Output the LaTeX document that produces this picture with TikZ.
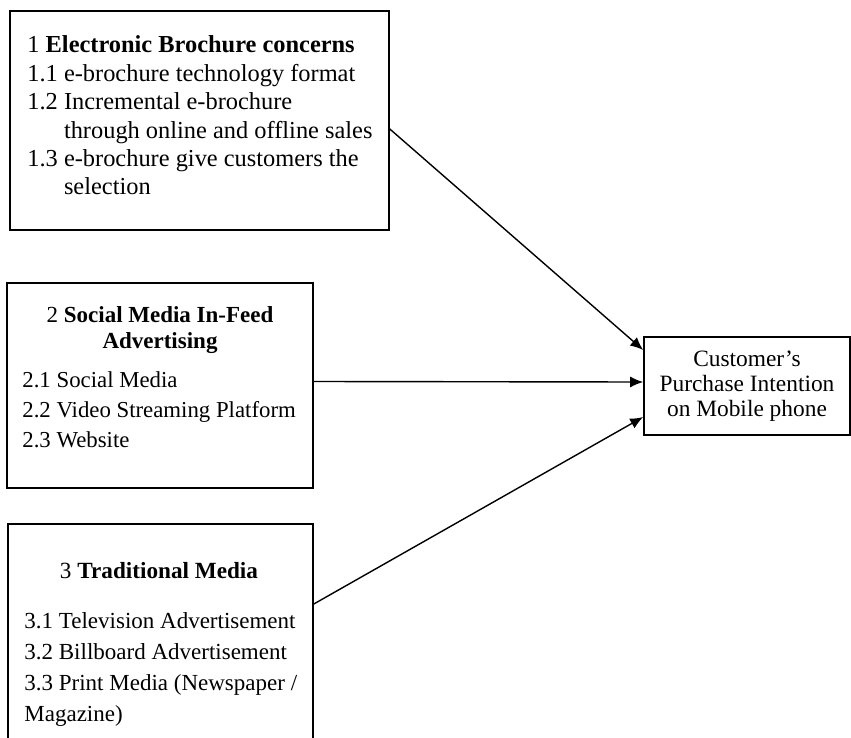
\documentclass[tikz,border=0pt]{standalone}
\usepackage{fontspec}
\setmainfont{Liberation Serif}
\usetikzlibrary{positioning,arrows.meta}

\begin{document}
\begin{tikzpicture}
                    [x=0.5pt,y=-0.5pt,>={Latex[length=6.5pt,width=5.5pt]},
                     box/.style={draw,line width=0.8pt,inner sep=0pt},
                     txt/.style={inner sep=0pt,anchor=base west},
                     ttl/.style={inner sep=0pt,anchor=base}]

                \useasboundingbox (0,0) rectangle (851,738);

                % the three factor boxes
                \node[box,minimum width=189.5pt,minimum height=109.5pt] (brochure) at (199.5,120.5) {};
                \node[box,minimum width=153pt,minimum height=102.5pt] (social) at (160,385.5) {};
                \node[box,minimum width=152.5pt,minimum height=123pt] (traditional) at (160.5,647) {};

                \node[txt] (brochuretext) at (27,53) {\fontsize{12.2}{14.2}\selectfont
                    \begin{tabular}[t]{@{}l@{\ }l@{}}
                    \multicolumn{2}{@{}l@{}}{1 \textbf{Electronic Brochure concerns}}\\
                    1.1 & e-brochure technology format\\
                    1.2 & Incremental e-brochure\\
                        & through online and offline sales\\
                    1.3 & e-brochure give customers the\\
                        & selection
                    \end{tabular}};

                \node[ttl] (socialtitle) at (160,322) {\fontsize{11.5}{13}\selectfont
                    \begin{tabular}[t]{@{}c@{}}
                    2 \textbf{Social Media In-Feed}\\
                    \textbf{Advertising}
                    \end{tabular}};
                \node[txt] (socialtext) at (22,387) {\fontsize{11.4}{15}\selectfont
                    \begin{tabular}[t]{@{}l@{}}
                    2.1 Social Media\\
                    2.2 Video Streaming Platform\\
                    2.3 Website
                    \end{tabular}};

                \node[ttl] (traditionaltitle) at (159,578) {\fontsize{11.6}{14}\selectfont 3 \textbf{Traditional Media}};
                \node[txt] (traditionaltext) at (24,628) {\fontsize{11.5}{15.6}\selectfont
                    \begin{tabular}[t]{@{}l@{}}
                    3.1 Television Advertisement\\
                    3.2 Billboard Advertisement\\
                    3.3 Print Media (Newspaper /\\
                    Magazine)
                    \end{tabular}};

                % outcome
                \node[box,minimum width=103pt,minimum height=49pt,align=center,
                      font=\fontsize{11.7}{12.5}\selectfont] (intention) at (747,386)
                    {Customer's\\Purchase Intention\\on Mobile phone};

                \draw[->,line width=0.7pt] ([yshift=-4.25pt]brochure.east) -- ([yshift=18pt]intention.west);
                \draw[->,line width=0.7pt] ([yshift=2pt]social.east) -- ([yshift=2pt]intention.west);
                \draw[->,line width=0.7pt] ([yshift=21.5pt]traditional.east) -- ([yshift=-15.5pt]intention.west);

\end{tikzpicture}
\end{document}
